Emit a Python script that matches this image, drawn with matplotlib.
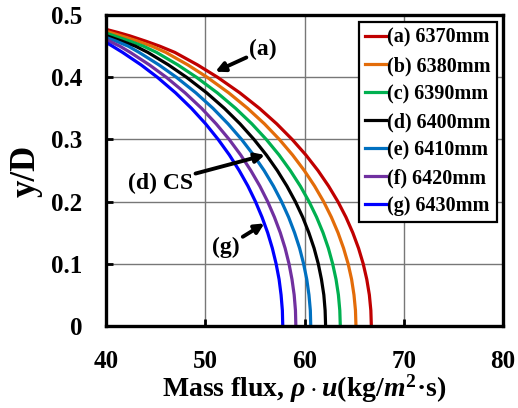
import matplotlib
matplotlib.use("Agg")
import matplotlib.pyplot as plt

plt.rcParams['font.family'] = ['Liberation Serif', 'DejaVu Serif']
plt.rcParams['font.weight'] = 'bold'
plt.rcParams['axes.labelweight'] = 'bold'
plt.rcParams['mathtext.fontset'] = 'custom'
plt.rcParams['mathtext.rm'] = 'Liberation Serif:bold'
plt.rcParams['mathtext.it'] = 'Liberation Serif:bold:italic'
plt.rcParams['mathtext.bf'] = 'Liberation Serif:bold'

# y/D levels where the curves were read; the last few points of each curve are the flat top part
yD = [0, 0.025, 0.05, 0.075, 0.1, 0.125, 0.15, 0.175, 0.2, 0.225, 0.25,
      0.275, 0.3, 0.325, 0.35, 0.375, 0.4, 0.42, 0.44, 0.45]

flux_a = [66.73, 66.68, 66.53, 66.27, 65.91, 65.44, 64.86, 64.17, 63.36, 62.42, 61.35,
          60.13, 58.75, 57.2, 55.45, 53.47, 51.23, 49.2, 46.92, 45.4, 44.0, 42.4, 41.2, 40]
y_a = yD + [0.458, 0.4665, 0.472, 0.477]

flux_b = [65.18, 65.13, 64.98, 64.74, 64.39, 63.93, 63.37, 62.7, 61.92, 61.01, 59.97,
          58.79, 57.46, 55.96, 54.26, 52.35, 50.18, 48.22, 46.01, 44.6, 43.1, 41.6, 40]
y_b = yD + [0.4585, 0.4662, 0.474]

flux_c = [63.6, 63.55, 63.41, 63.17, 62.83, 62.4, 61.86, 61.21, 60.45, 59.57, 58.56,
          57.43, 56.14, 54.69, 53.05, 51.2, 49.1, 47.21, 45.08, 43.75, 42.4, 41.2, 40]
y_c = yD + [0.458, 0.4645, 0.471]

flux_d = [62.12, 62.07, 61.94, 61.7, 61.38, 60.96, 60.43, 59.81, 59.07, 58.22, 57.25,
          56.15, 54.9, 53.5, 51.92, 50.13, 48.1, 46.27, 44.2, 42.95, 41.6, 40]
y_d = yD + [0.458, 0.467]

flux_e = [60.62, 60.58, 60.44, 60.22, 59.9, 59.5, 58.99, 58.39, 57.68, 56.86, 55.92,
          54.85, 53.65, 52.29, 50.77, 49.04, 47.08, 45.31, 43.32, 42.22, 41.1, 40]
y_e = yD + [0.4575, 0.464]

flux_f = [59.12, 59.08, 58.95, 58.73, 58.43, 58.04, 57.55, 56.96, 56.28, 55.49, 54.58,
          53.56, 52.4, 51.09, 49.62, 47.95, 46.06, 44.35, 42.43, 41.38, 40]
y_f = yD + [0.4605]

flux_g = [57.8, 57.76, 57.63, 57.43, 57.13, 56.75, 56.28, 55.71, 55.05, 54.29, 53.41,
          52.42, 51.29, 50.03, 48.6, 46.99, 45.16, 43.51, 41.65, 40.63, 40]
y_g = yD + [0.456]

labels = ["(a) 6370mm", "(b) 6380mm", "(c) 6390mm", "(d) 6400mm",
          "(e) 6410mm", "(f) 6420mm", "(g) 6430mm"]
colors = ["#C00000", "#E36C09", "#00B050", "#000000", "#0070C0", "#7030A0", "#0000FF"]

fig = plt.figure(figsize=(5.18, 4.08), dpi=100)
ax = fig.add_axes([0.205, 0.201, 0.766, 0.762])

allx = [flux_a, flux_b, flux_c, flux_d, flux_e, flux_f, flux_g]
ally = [y_a, y_b, y_c, y_d, y_e, y_f, y_g]
for xs, ys, lab, c in zip(allx, ally, labels, colors):
    ax.plot(xs, ys, color=c, linewidth=2.3, label=lab, solid_joinstyle='round')

ax.set_xlim(40, 80)
ax.set_ylim(0, 0.5)
ax.set_xticks([40, 50, 60, 70, 80])
ax.set_yticks([0, 0.1, 0.2, 0.3, 0.4, 0.5])
ax.set_yticklabels(["0", "0.1", "0.2", "0.3", "0.4", "0.5"])
ax.grid(True, color="#777777", linewidth=1.0)
ax.tick_params(direction='in', length=5, width=2, labelsize=18, pad=17)
for s in ax.spines.values():
    s.set_linewidth(2.4)

ax.set_xlabel("Mass flux, $\\rho\\cdot u$(kg/$m^2$·s)", fontsize=20, labelpad=0)
ax.set_ylabel("y/D", fontsize=25, labelpad=6)

leg = ax.legend(loc='upper right', bbox_to_anchor=(0.984, 0.978), borderaxespad=0,
                fontsize=14.5, handlelength=1.05, handletextpad=0.05,
                labelspacing=0.4, fancybox=False, framealpha=1,
                edgecolor='black', borderpad=0.3)
leg.get_frame().set_linewidth(1.6)
for l in leg.get_lines():
    l.set_linewidth(2.3)

arr = dict(arrowstyle='-|>', color='black', lw=2.8, mutation_scale=14, shrinkA=0, shrinkB=0)
ax.annotate("(a)", xy=(51.0, 0.409), xytext=(55.8, 0.444), fontsize=17,
            ha='center', va='center', arrowprops=arr)
ax.annotate("(d) CS", xy=(56.0, 0.275), xytext=(45.45, 0.23), fontsize=17,
            ha='center', va='center', arrowprops=arr)
ax.annotate("(g)", xy=(55.95, 0.165), xytext=(52.1, 0.127), fontsize=17,
            ha='center', va='center', arrowprops=arr)

fig.savefig("out.png", dpi=100)
